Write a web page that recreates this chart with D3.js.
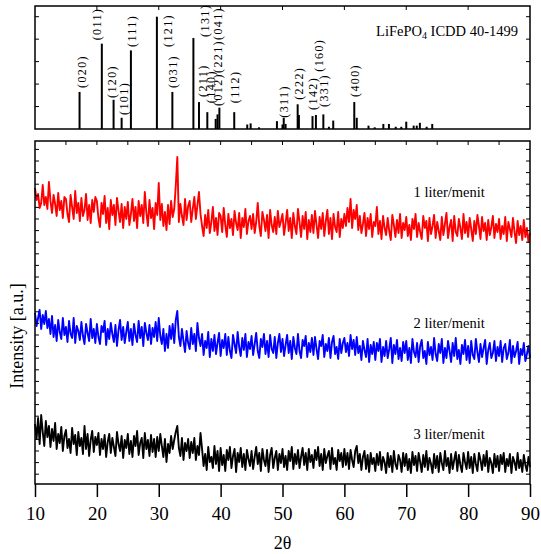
<!DOCTYPE html>
<html>
<head>
<meta charset="utf-8">
<script src="https://cdn.jsdelivr.net/npm/d3@7"></script>
<style>
  body { margin: 0; background: #fff; }
  text { font-family: "Liberation Serif", "Times New Roman", serif; fill: #000; }
</style>
</head>
<body>
<script>
var width = 541;
var height = 554;

// ICDD 40-1499 stick pattern (2theta, relative intensity %)
var stickTheta = [17.2, 20.8, 22.7, 24.0, 25.5, 29.7, 32.2, 35.6, 36.5, 37.85, 39.2, 39.5, 39.8, 42.2,
                  44.3, 44.85, 46.2, 49.1, 50.0, 50.2, 50.5, 52.45, 52.65, 54.85, 55.4, 56.6, 57.5, 58.2,
                  61.6, 62.0, 63.9, 64.9, 66.3, 67.2, 68.3, 69.2, 70.0, 71.2, 71.7, 72.2, 73.3, 74.2];
var stickInt   = [33, 76, 26, 10, 70, 100, 33, 81, 24, 15, 9, 13, 19, 15,
                  4, 5, 1.5, 7, 4, 10, 4.5, 22, 12.5, 11.5, 12.5, 13, 2, 7.5,
                  24, 10, 3, 1.5, 4.5, 4.5, 2, 2, 6.5, 3, 3, 5.5, 2, 4.5];

// hkl labels (2theta of label centre, intensity at label foot)
var hklText  = ["(020)", "(011)", "(120)", "(101)", "(111)", "(121)", "(031)", "(131)", "(211)", "(140)",
                "(012)(221)(041)", "(112)", "(311)", "(222)", "(142)", "(160)", "(331)", "(400)"];
var hklTheta = [17.6, 20.0, 22.4, 24.3, 25.6, 31.5, 32.2, 37.5, 37.15, 38.45, 39.6, 42.3, 50.25, 52.7, 54.9, 55.9, 56.7, 61.7];
var hklFoot  = [36.5, 79, 27.6, 12.5, 73, 73, 36.5, 82, 28.5, 23, 20.5, 23, 10, 26, 17, 51, 19.6, 28.5];

// measured patterns, 2theta 10..90 in 0.25 steps (stacked, a.u.)
var thetaStart = 10, thetaStep = 0.25;
var xTicks = [10, 20, 30, 40, 50, 60, 70, 80, 90];

var red = [
  296, 284, 290, 276, 281, 299, 279, 287, 275, 302, 283, 271, 289, 280, 268, 291, 274, 283, 266, 287,
  285, 270, 262, 289, 277, 265, 293, 271, 281, 263, 286, 268, 274, 290, 264, 279, 261, 284, 272, 287,
  283, 266, 257, 281, 270, 288, 261, 276, 255, 284, 269, 279, 259, 286, 273, 262, 280, 256, 277, 265,
  282, 259, 270, 285, 263, 277, 256, 283, 268, 279, 261, 292, 271, 258, 284, 266, 276, 255, 281, 269,
  301, 264, 280, 258, 272, 254, 279, 260, 283, 267, 275, 298, 327, 262, 280, 268, 259, 285, 264, 278,
  283, 262, 275, 287, 265, 279, 292, 270, 258, 248, 269, 256, 274, 251, 262, 277, 253, 266, 249, 271,
  268, 252, 276, 259, 247, 270, 256, 265, 249, 273, 261, 254, 271, 246, 266, 257, 275, 250, 263, 268,
  255, 270, 251, 262, 281, 258, 248, 272, 264, 253, 269, 246, 274, 259, 252, 267, 250, 273, 257, 263,
  270, 249, 261, 274, 253, 266, 246, 271, 258, 250, 275, 262, 247, 268, 255, 272, 245, 264, 252, 269,
  251, 273, 259, 246, 267, 255, 271, 248, 263, 274, 250, 266, 245, 270, 257, 252, 272, 247, 265, 256,
  270, 258, 276, 262, 285, 256, 274, 265, 279, 254, 268, 251, 260, 271, 248, 266, 255, 270, 247, 262,
  258, 277, 250, 263, 245, 268, 256, 249, 266, 253, 244, 269, 259, 247, 264, 251, 270, 246, 261, 254,
  267, 248, 259, 244, 265, 255, 270, 247, 261, 252, 245, 268, 256, 263, 243, 266, 250, 258, 269, 246,
  262, 253, 244, 267, 249, 260, 271, 246, 257, 264, 243, 268, 252, 248, 265, 256, 245, 270, 251, 262,
  247, 266, 255, 243, 263, 250, 269, 258, 245, 267, 253, 261, 244, 264, 249, 257, 268, 246, 260, 252,
  265, 245, 258, 250, 267, 243, 262, 255, 247, 266, 252, 241, 263, 249, 258, 244, 264, 247, 256, 242,
  251];

var blue = [
  171, 158, 166, 174, 155, 169, 160, 173, 156, 165, 150, 168, 147, 159, 143, 164, 152, 145, 166, 149,
  157, 142, 163, 150, 146, 166, 141, 158, 153, 144, 162, 148, 140, 160, 151, 143, 165, 146, 155, 141,
  160, 147, 140, 158, 152, 163, 139, 155, 145, 161, 150, 142, 159, 138, 154, 164, 144, 157, 141, 152,
  162, 143, 155, 139, 160, 149, 142, 163, 146, 157, 138, 161, 151, 144, 159, 140, 156, 147, 162, 143,
  166, 148, 140, 155, 133, 150, 136, 158, 145, 160, 141, 164, 173, 147, 138, 155, 143, 132, 153, 141,
  135, 156, 140, 150, 133, 161, 146, 138, 150, 129, 143, 136, 152, 127, 145, 133, 149, 130, 141, 151,
  128, 144, 136, 150, 129, 147, 133, 126, 149, 140, 131, 152, 137, 128, 146, 134, 150, 127, 142, 135,
  148, 129, 140, 151, 133, 126, 145, 137, 150, 130, 143, 127, 149, 135, 131, 147, 126, 141, 150, 132,
  145, 128, 139, 149, 131, 143, 125, 147, 136, 130, 150, 133, 126, 144, 138, 148, 127, 141, 132, 146,
  129, 147, 135, 125, 143, 138, 149, 127, 140, 133, 146, 126, 142, 148, 130, 137, 125, 145, 131, 141,
  146, 132, 141, 128, 149, 135, 144, 129, 147, 131, 138, 124, 143, 134, 127, 145, 122, 139, 130, 142,
  124, 141, 133, 145, 122, 137, 128, 143, 126, 135, 146, 121, 139, 130, 144, 125, 136, 123, 142, 131,
  143, 124, 136, 121, 145, 132, 127, 141, 122, 138, 144, 126, 133, 120, 142, 129, 137, 124, 146, 130,
  123, 140, 131, 145, 121, 136, 126, 143, 133, 122, 141, 128, 146, 125, 134, 120, 139, 130, 144, 124,
  138, 121, 143, 129, 125, 145, 132, 122, 140, 127, 136, 144, 120, 134, 141, 126, 131, 143, 123, 137,
  128, 143, 122, 136, 140, 125, 131, 144, 121, 138, 127, 133, 142, 120, 135, 129, 141, 123, 130, 138,
  126];

var black = [
  60, 45, 66, 40, 69, 52, 38, 63, 47, 58, 37, 55, 43, 61, 35, 50, 41, 57, 33, 48,
  54, 36, 45, 31, 56, 40, 49, 29, 52, 38, 46, 30, 58, 35, 50, 28, 44, 53, 32, 47,
  39, 51, 29, 45, 35, 49, 27, 42, 50, 31, 46, 37, 28, 52, 40, 33, 48, 26, 44, 36,
  50, 30, 43, 27, 48, 38, 53, 29, 41, 46, 26, 51, 35, 44, 28, 49, 32, 45, 27, 47,
  33, 50, 38, 27, 45, 22, 40, 31, 48, 35, 44, 52, 58, 36, 28, 46, 24, 41, 33, 45,
  26, 42, 31, 46, 24, 38, 29, 51, 35, 18, 30, 14, 37, 22, 27, 16, 38, 20, 33, 13,
  36, 19, 29, 13, 34, 24, 37, 16, 28, 35, 12, 31, 22, 36, 17, 30, 14, 34, 25, 18,
  33, 15, 27, 37, 20, 31, 13, 35, 24, 18, 34, 12, 29, 36, 16, 26, 33, 14, 30, 21,
  35, 17, 28, 14, 33, 23, 37, 15, 30, 20, 34, 16, 27, 36, 19, 31, 14, 35, 22, 29,
  16, 34, 24, 37, 18, 30, 14, 35, 21, 28, 33, 15, 36, 20, 26, 14, 34, 23, 31, 17,
  35, 19, 31, 15, 34, 24, 17, 33, 38, 21, 30, 14, 27, 33, 15, 29, 12, 31, 20, 26,
  13, 30, 19, 32, 14, 27, 22, 11, 31, 17, 28, 12, 33, 20, 15, 29, 24, 12, 31, 18,
  30, 14, 25, 11, 32, 19, 28, 13, 31, 22, 12, 29, 17, 33, 14, 26, 20, 11, 30, 16,
  28, 12, 31, 21, 14, 33, 18, 26, 11, 30, 15, 24, 32, 13, 29, 19, 12, 31, 22, 15,
  32, 16, 27, 11, 30, 20, 13, 31, 24, 14, 29, 18, 33, 12, 26, 21, 11, 30, 17, 28,
  13, 29, 20, 31, 12, 25, 18, 30, 11, 27, 22, 14, 31, 16, 24, 12, 29, 19, 13, 27,
  17];

var seriesData   = [red, blue, black];
var seriesColors = ["#ff0000", "#0000ff", "#000000"];
var seriesNames  = ["1 liter/menit", "2 liter/menit", "3 liter/menit"];
var seriesLabelAt = [287, 156, 45];   // a.u. level of each label baseline

var svg = d3.select("body").append("svg")
    .attr("width", width)
    .attr("height", height);

var x = d3.scaleLinear().domain([10, 90]).range([35, 530]);
var yTop = d3.scaleLinear().domain([0, 100]).range([129, 16.7]);
var yBot = d3.scaleLinear().domain([0, 343]).range([484, 141]);

// ---------- top panel: reference pattern ----------
var refPanel = svg.append("g");

refPanel.selectAll(".stick")
    .data(stickTheta)
  .enter().append("line")
    .attr("x1", function (d) { return x(d); })
    .attr("x2", function (d) { return x(d); })
    .attr("y1", yTop(0))
    .attr("y2", function (d, i) { return yTop(stickInt[i]); })
    .style("stroke", "#000")
    .style("stroke-width", 2);

refPanel.selectAll(".hkl")
    .data(hklText)
  .enter().append("text")
    .attr("transform", function (d, i) {
      return "translate(" + x(hklTheta[i]) + "," + yTop(hklFoot[i]) + ") rotate(-90)";
    })
    .attr("dy", "0.35em")
    .style("font-size", "12px")
    .style("letter-spacing", "1.4px")
    .text(function (d) { return d; });

var title = refPanel.append("text")
    .attr("x", 518)
    .attr("y", 36)
    .attr("text-anchor", "end")
    .style("font-size", "14.5px");
title.append("tspan").text("LiFePO");
title.append("tspan").attr("dy", 3).style("font-size", "10px").text("4");
title.append("tspan").attr("dy", -3).text(" ICDD 40-1499");

refPanel.append("rect")
    .attr("x", 35).attr("y", 6)
    .attr("width", 495).attr("height", 123)
    .style("fill", "none").style("stroke", "#000").style("stroke-width", 1.5);

// inner ticks of the top frame
refPanel.selectAll(".tt")
    .data(xTicks.slice(1, -1))
  .enter().append("line")
    .attr("x1", function (d) { return x(d); })
    .attr("x2", function (d) { return x(d); })
    .attr("y1", 6).attr("y2", 10)
    .style("stroke", "#000");

[35, 530].forEach(function (ex) {
  var dir = ex === 35 ? 1 : -1;
  refPanel.selectAll(null)
      .data([20, 40, 60, 80, 100])
    .enter().append("line")
      .attr("x1", ex).attr("x2", ex + 4 * dir)
      .attr("y1", function (d) { return yTop(d); })
      .attr("y2", function (d) { return yTop(d); })
      .style("stroke", "#000");
});

// ---------- bottom panel: measured patterns ----------
var dataPanel = svg.append("g");

var line = d3.line()
    .x(function (d, i) { return x(thetaStart + i * thetaStep); })
    .y(function (d) { return yBot(d); });

dataPanel.selectAll(".trace")
    .data(seriesData)
  .enter().append("path")
    .attr("d", line)
    .style("fill", "none")
    .style("stroke", function (d, i) { return seriesColors[i]; })
    .style("stroke-width", 1.9)
    .style("stroke-linejoin", "round");

dataPanel.selectAll(".slabel")
    .data(seriesNames)
  .enter().append("text")
    .attr("x", x(82.7))
    .attr("y", function (d, i) { return yBot(seriesLabelAt[i]); })
    .attr("text-anchor", "end")
    .style("font-size", "14.5px")
    .text(function (d) { return d; });

dataPanel.append("rect")
    .attr("x", 35).attr("y", 141)
    .attr("width", 495).attr("height", 343)
    .style("fill", "none").style("stroke", "#000").style("stroke-width", 1.5);

// minor ticks on the top edge
dataPanel.selectAll(".mt")
    .data(d3.range(15, 90, 5))
  .enter().append("line")
    .attr("x1", function (d) { return x(d); })
    .attr("x2", function (d) { return x(d); })
    .attr("y1", 141).attr("y2", 145)
    .style("stroke", "#000");

// ticks on left and right edges
[35, 530].forEach(function (ex) {
  var dir = ex === 35 ? 1 : -1;
  dataPanel.selectAll(null)
      .data(d3.range(9.8, 343, 11.6))
    .enter().append("line")
      .attr("x1", ex).attr("x2", ex + 4 * dir)
      .attr("y1", function (d) { return yBot(d); })
      .attr("y2", function (d) { return yBot(d); })
      .style("stroke", "#000");
});

// x axis
var xAxis = d3.axisBottom(x)
    .tickValues(xTicks)
    .tickSize(13)
    .tickPadding(10)
    .tickFormat(d3.format("d"));

var gx = svg.append("g")
    .attr("transform", "translate(0,484)")
    .call(xAxis);
gx.select(".domain").remove();
gx.selectAll(".tick line").style("stroke-width", 1.5);
gx.selectAll(".tick text")
    .style("font-family", "'Liberation Serif', 'Times New Roman', serif")
    .style("font-size", "19px");

svg.append("text")
    .attr("x", 282.5)
    .attr("y", 549)
    .attr("text-anchor", "middle")
    .style("font-size", "18px")
    .text("2θ");

svg.append("text")
    .attr("transform", "translate(17,336) rotate(-90)")
    .attr("text-anchor", "middle")
    .attr("dy", "0.35em")
    .style("font-size", "18px")
    .text("Intensity [a.u.]");
</script>
</body>
</html>
